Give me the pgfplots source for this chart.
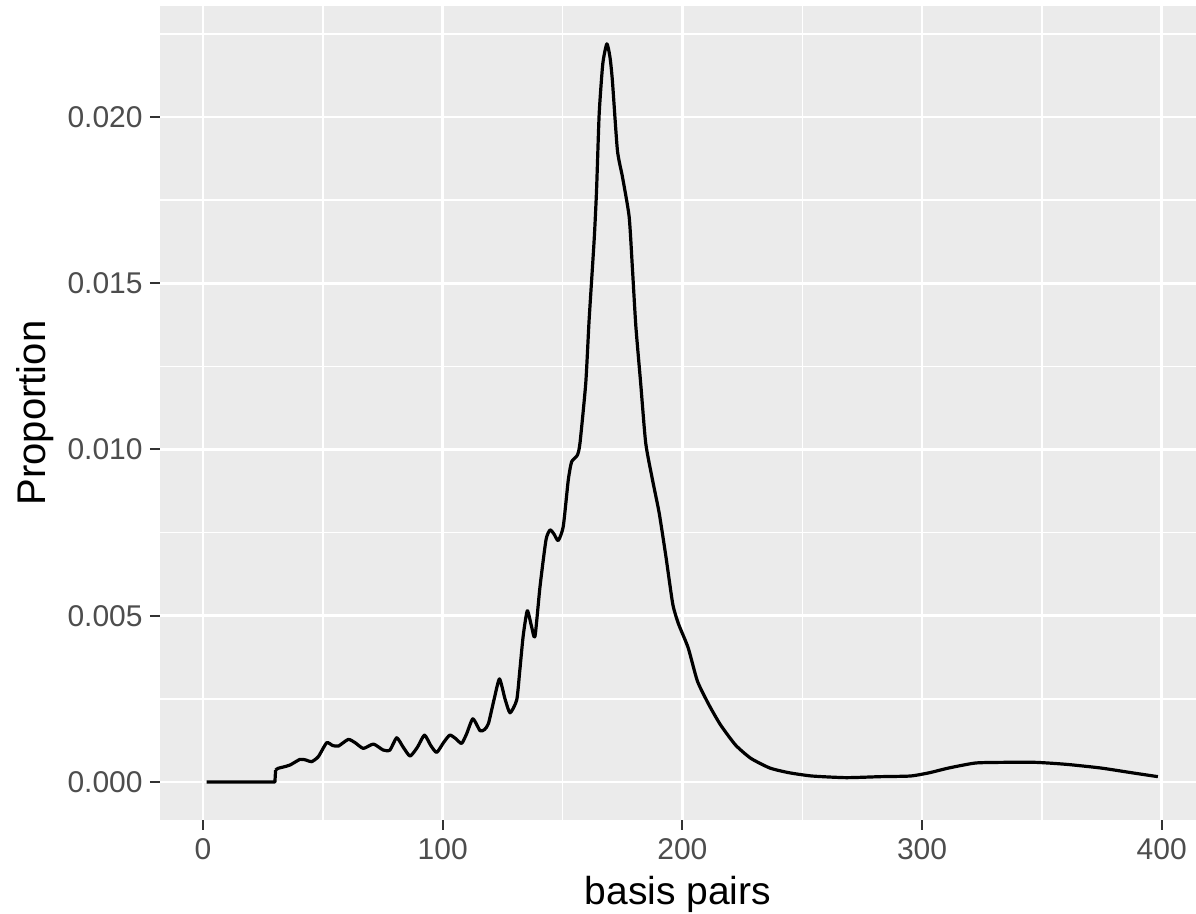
\documentclass[border=0pt]{standalone}
\usepackage{fontspec}
\setmainfont{Liberation Sans}
\usepackage{pgfplots}
\pgfplotsset{compat=1.18}
\definecolor{panelbg}{HTML}{EBEBEB}
\definecolor{ticklab}{HTML}{4D4D4D}
\definecolor{tickcol}{HTML}{333333}
\begin{document}
\begin{tikzpicture}
\begin{axis}[
  scale only axis,
  width=518pt, height=407pt,
  xmin=-17.94, xmax=414.3,
  ymin=-0.001143, ymax=0.023338,
  axis background/.style={fill=panelbg},
  axis line style={draw=none},
  xtick={0,100,200,300,400},
  xticklabels={0,100,200,300,400},
  ytick={0,0.005,0.010,0.015,0.020},
  yticklabels={0.000,0.005,0.010,0.015,0.020},
  scaled y ticks=false,
  minor xtick={50,150,250,350},
  minor ytick={0.0025,0.0075,0.0125,0.0175,0.0225},
  grid=both,
  major grid style={draw=white, line width=1.4pt},
  minor grid style={draw=white, line width=0.7pt},
  minor tick length=0pt,
  major tick length=5pt,
  tick align=outside,
  xtick pos=bottom, ytick pos=left,
  major tick style={draw=tickcol, line width=1pt},
  /pgf/number format/assume math mode=true,
  tick label style={font=\fontsize{15}{17}\selectfont, text=ticklab, inner sep=0pt},
  yticklabel style={anchor=east, xshift=-3.5pt},
  xticklabel style={anchor=north, yshift=-4pt},
  xlabel={basis pairs},
  ylabel={Proportion},
  xlabel style={font=\fontsize{19.5}{22}\selectfont, text=black, at={(axis description cs:0.5,-0.1044)}, anchor=base, inner sep=0pt},
  ylabel style={font=\fontsize{20}{22}\selectfont, text=black, at={(axis description cs:-0.111,0.5)}, anchor=base, rotate=0, inner sep=0pt},
  clip=true,
]
\addplot[black, line width=1.6pt, line join=round] coordinates {
(1.5,0) (30,0) (30.3,0.00036)
};
\addplot[black, line width=1.6pt, line join=round, smooth, tension=0.35] coordinates {
(30.3,0.00036) (31.3,0.00041) (33.5,0.00045) (36.3,0.00051)
(40.5,0.00068) (43,0.00066) (45.3,0.00061) (48.1,0.00076) (51.6,0.00118)
(54,0.00110) (56.5,0.00108) (60.6,0.00128) (63.5,0.00118) (66.9,0.00101)
(71.1,0.00114) (75.2,0.00096) (78,0.00096) (80.8,0.00133) (83.5,0.00105)
(86.4,0.00078) (89.5,0.00105) (92.4,0.00141) (95,0.00110) (97.5,0.00089)
(100.5,0.00120) (103,0.00141) (105.5,0.00130) (107.9,0.00116) (110,0.00145)
(112.6,0.00190) (115.6,0.00154) (117.5,0.00158) (119.1,0.00176) (121.5,0.00250)
(123.7,0.00310) (126,0.00250) (128.1,0.00208) (130.9,0.00247) (132.2,0.00337)
(133.6,0.00440) (135.3,0.00515) (137,0.00470) (138.5,0.00437) (140.6,0.00587)
(143.1,0.00728) (144.8,0.00758) (146.5,0.00745) (148.2,0.00726) (150.3,0.00768)
(152.4,0.00908) (153.8,0.00963) (156.2,0.00983) (157.3,0.0102) (159.7,0.0120)
(161.1,0.0139) (163.2,0.0163) (164.2,0.0178) (165.3,0.0201) (166.8,0.0216)
(168.5,0.0222) (169.8,0.0218) (170.8,0.0211) (172.9,0.0190) (175,0.0182)
(177.8,0.0170) (179.2,0.0154) (180.6,0.0137) (182.6,0.0120) (184.7,0.0102)
(187.5,0.0091) (190.3,0.0081) (193.1,0.0068) (196,0.00535) (198.4,0.00475)
(202.4,0.00404) (206.3,0.00303) (211.1,0.00232) (215.9,0.00172) (222.2,0.00111)
(228.6,0.00071) (236.5,0.00042) (244.4,0.00028) (254,0.00018) (268.3,0.00013)
(282.5,0.00016) (295.2,0.00018) (303.2,0.00028) (311.1,0.00042) (322.2,0.00057)
(333.3,0.00059) (347.6,0.00059) (360.3,0.00053) (374.6,0.00042) (387.3,0.00028)
(398.4,0.00016)
};
\coordinate (SW) at (rel axis cs:0,0);
\coordinate (NE) at (rel axis cs:1,1);
\end{axis}
\pgfresetboundingbox
\path ([shift={(-80pt,-47pt)}]SW) rectangle ([shift={(0pt,3pt)}]NE);
\end{tikzpicture}
\end{document}
